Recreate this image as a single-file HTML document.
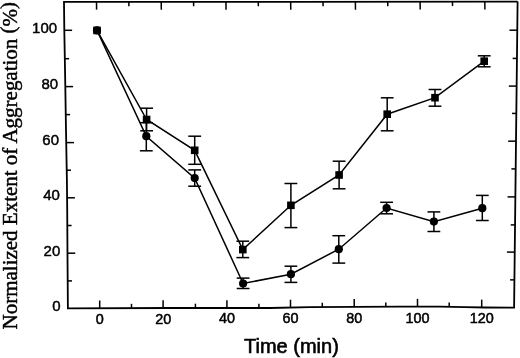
<!DOCTYPE html>
<html><head><meta charset="utf-8"><title>Figure</title>
<style>html,body{margin:0;padding:0;background:#fff}svg{display:block}</style></head>
<body>
<svg width="520" height="358" viewBox="0 0 520 358">
<rect width="520" height="358" fill="#fff"/>
<polygon points="64.00,1.80 290.00,1.95 517.60,1.70 517.60,1.60 514.10,307.60 514.10,307.60 485.00,307.50 465.00,307.10 440.00,306.70 400.00,306.60 310.00,307.10 270.00,308.00 170.00,308.00 67.90,308.40 67.45,250.00 67.20,208.00 66.90,180.00 66.00,130.00 65.30,86.00 64.80,58.00 64.30,30.00 64.00,1.80" fill="none" stroke="#000" stroke-width="1.80" stroke-linejoin="miter"/>
<g stroke="#000" stroke-width="1.50">
<line x1="96.50" y1="1.82" x2="96.60" y2="9.62"/>
<line x1="99.70" y1="308.28" x2="99.70" y2="300.48"/>
<line x1="128.86" y1="1.84" x2="128.91" y2="6.14"/>
<line x1="131.50" y1="308.15" x2="131.50" y2="303.85"/>
<line x1="161.22" y1="1.86" x2="161.32" y2="9.66"/>
<line x1="163.10" y1="308.03" x2="163.10" y2="300.23"/>
<line x1="193.58" y1="1.89" x2="193.63" y2="6.19"/>
<line x1="195.40" y1="308.00" x2="195.40" y2="303.70"/>
<line x1="225.94" y1="1.91" x2="226.04" y2="9.71"/>
<line x1="226.90" y1="308.00" x2="226.90" y2="300.20"/>
<line x1="258.30" y1="1.93" x2="258.35" y2="6.23"/>
<line x1="258.90" y1="308.00" x2="258.90" y2="303.70"/>
<line x1="290.66" y1="1.95" x2="290.76" y2="9.75"/>
<line x1="290.50" y1="307.54" x2="290.50" y2="299.74"/>
<line x1="323.02" y1="1.91" x2="323.07" y2="6.21"/>
<line x1="322.30" y1="307.03" x2="322.30" y2="302.73"/>
<line x1="355.38" y1="1.88" x2="355.48" y2="9.68"/>
<line x1="354.20" y1="306.85" x2="354.20" y2="299.05"/>
<line x1="387.74" y1="1.84" x2="387.79" y2="6.14"/>
<line x1="385.80" y1="306.68" x2="385.80" y2="302.38"/>
<line x1="420.10" y1="1.81" x2="420.20" y2="9.61"/>
<line x1="417.50" y1="306.64" x2="417.50" y2="298.84"/>
<line x1="452.46" y1="1.77" x2="452.51" y2="6.07"/>
<line x1="449.20" y1="306.85" x2="449.20" y2="302.55"/>
<line x1="484.82" y1="1.74" x2="484.92" y2="9.54"/>
<line x1="481.70" y1="307.43" x2="481.70" y2="299.63"/>
<line x1="67.69" y1="280.90" x2="71.99" y2="280.90"/>
<line x1="514.42" y1="279.86" x2="510.12" y2="279.86"/>
<line x1="67.47" y1="253.20" x2="75.27" y2="253.20"/>
<line x1="514.73" y1="252.10" x2="506.93" y2="252.10"/>
<line x1="67.30" y1="225.50" x2="71.60" y2="225.50"/>
<line x1="515.05" y1="224.90" x2="510.75" y2="224.90"/>
<line x1="67.09" y1="197.80" x2="74.89" y2="197.80"/>
<line x1="515.37" y1="196.90" x2="507.57" y2="196.90"/>
<line x1="66.72" y1="170.20" x2="71.02" y2="170.20"/>
<line x1="515.69" y1="168.90" x2="511.39" y2="168.90"/>
<line x1="66.23" y1="142.60" x2="74.03" y2="142.60"/>
<line x1="516.00" y1="141.16" x2="508.20" y2="141.16"/>
<line x1="65.75" y1="114.60" x2="70.05" y2="114.60"/>
<line x1="516.32" y1="113.42" x2="512.02" y2="113.42"/>
<line x1="65.31" y1="86.60" x2="73.11" y2="86.60"/>
<line x1="516.63" y1="86.10" x2="508.83" y2="86.10"/>
<line x1="64.81" y1="58.70" x2="69.11" y2="58.70"/>
<line x1="516.95" y1="58.40" x2="512.65" y2="58.40"/>
<line x1="64.31" y1="30.30" x2="72.11" y2="30.30"/>
<line x1="517.27" y1="30.20" x2="509.47" y2="30.20"/>
</g>
<polyline fill="none" stroke="#000" stroke-width="1.50" points="97.0,30.4 146.6,119.5 194.7,150.3 242.8,249.6 290.9,205.3 339.1,175.0 387.2,114.2 435.0,97.7 484.2,61.2"/>
<polyline fill="none" stroke="#000" stroke-width="1.50" points="97.0,30.4 146.3,136.2 194.7,178.1 243.1,283.5 290.9,274.2 338.8,249.2 386.6,208.0 433.9,221.6 482.3,208.2"/>
<g stroke="#000" stroke-width="1.50">
<line x1="146.6" y1="108.2" x2="146.6" y2="130.8"/>
<line x1="140.2" y1="108.2" x2="153.0" y2="108.2"/>
<line x1="140.2" y1="130.8" x2="153.0" y2="130.8"/>
<line x1="194.7" y1="136.2" x2="194.7" y2="164.3"/>
<line x1="188.3" y1="136.2" x2="201.1" y2="136.2"/>
<line x1="188.3" y1="164.3" x2="201.1" y2="164.3"/>
<line x1="242.8" y1="241.2" x2="242.8" y2="257.6"/>
<line x1="236.4" y1="241.2" x2="249.2" y2="241.2"/>
<line x1="236.4" y1="257.6" x2="249.2" y2="257.6"/>
<line x1="290.9" y1="183.5" x2="290.9" y2="227.6"/>
<line x1="284.5" y1="183.5" x2="297.3" y2="183.5"/>
<line x1="284.5" y1="227.6" x2="297.3" y2="227.6"/>
<line x1="339.1" y1="161.2" x2="339.1" y2="188.8"/>
<line x1="332.7" y1="161.2" x2="345.5" y2="161.2"/>
<line x1="332.7" y1="188.8" x2="345.5" y2="188.8"/>
<line x1="387.2" y1="97.8" x2="387.2" y2="130.8"/>
<line x1="380.8" y1="97.8" x2="393.6" y2="97.8"/>
<line x1="380.8" y1="130.8" x2="393.6" y2="130.8"/>
<line x1="435.0" y1="89.5" x2="435.0" y2="106.2"/>
<line x1="428.6" y1="89.5" x2="441.4" y2="89.5"/>
<line x1="428.6" y1="106.2" x2="441.4" y2="106.2"/>
<line x1="484.2" y1="55.8" x2="484.2" y2="66.8"/>
<line x1="477.8" y1="55.8" x2="490.6" y2="55.8"/>
<line x1="477.8" y1="66.8" x2="490.6" y2="66.8"/>
<line x1="146.3" y1="122.7" x2="146.3" y2="150.8"/>
<line x1="139.9" y1="122.7" x2="152.7" y2="122.7"/>
<line x1="139.9" y1="150.8" x2="152.7" y2="150.8"/>
<line x1="194.7" y1="169.9" x2="194.7" y2="186.2"/>
<line x1="188.3" y1="169.9" x2="201.1" y2="169.9"/>
<line x1="188.3" y1="186.2" x2="201.1" y2="186.2"/>
<line x1="243.1" y1="278.1" x2="243.1" y2="288.5"/>
<line x1="236.7" y1="278.1" x2="249.5" y2="278.1"/>
<line x1="236.7" y1="288.5" x2="249.5" y2="288.5"/>
<line x1="290.9" y1="266.2" x2="290.9" y2="282.4"/>
<line x1="284.5" y1="266.2" x2="297.3" y2="266.2"/>
<line x1="284.5" y1="282.4" x2="297.3" y2="282.4"/>
<line x1="338.8" y1="235.7" x2="338.8" y2="263.1"/>
<line x1="332.4" y1="235.7" x2="345.2" y2="235.7"/>
<line x1="332.4" y1="263.1" x2="345.2" y2="263.1"/>
<line x1="386.6" y1="202.3" x2="386.6" y2="213.8"/>
<line x1="380.2" y1="202.3" x2="393.0" y2="202.3"/>
<line x1="380.2" y1="213.8" x2="393.0" y2="213.8"/>
<line x1="433.9" y1="211.9" x2="433.9" y2="231.5"/>
<line x1="427.5" y1="211.9" x2="440.3" y2="211.9"/>
<line x1="427.5" y1="231.5" x2="440.3" y2="231.5"/>
<line x1="482.3" y1="195.4" x2="482.3" y2="220.5"/>
<line x1="475.9" y1="195.4" x2="488.7" y2="195.4"/>
<line x1="475.9" y1="220.5" x2="488.7" y2="220.5"/>
</g>
<circle cx="97.0" cy="30.4" r="4.1"/>
<circle cx="146.3" cy="136.2" r="4.1"/>
<circle cx="194.7" cy="178.1" r="4.1"/>
<circle cx="243.1" cy="283.5" r="4.1"/>
<circle cx="290.9" cy="274.2" r="4.1"/>
<circle cx="338.8" cy="249.2" r="4.1"/>
<circle cx="386.6" cy="208.0" r="4.1"/>
<circle cx="433.9" cy="221.6" r="4.1"/>
<circle cx="482.3" cy="208.2" r="4.1"/>
<rect x="93.2" y="26.6" width="7.6" height="7.6"/>
<rect x="142.8" y="115.7" width="7.6" height="7.6"/>
<rect x="190.9" y="146.5" width="7.6" height="7.6"/>
<rect x="239.0" y="245.8" width="7.6" height="7.6"/>
<rect x="287.1" y="201.5" width="7.6" height="7.6"/>
<rect x="335.3" y="171.2" width="7.6" height="7.6"/>
<rect x="383.4" y="110.4" width="7.6" height="7.6"/>
<rect x="431.2" y="93.9" width="7.6" height="7.6"/>
<rect x="480.4" y="57.4" width="7.6" height="7.6"/>
<g font-family="'Liberation Sans', Arial, Helvetica, sans-serif" font-size="15" fill="#000" stroke="#000" stroke-width="0.45" text-anchor="end">
<text transform="translate(60.7,310.8) scale(1,1.02)">0</text>
<text transform="translate(60.3,255.6) scale(1,1.02)">20</text>
<text transform="translate(59.9,200.2) scale(1,1.02)">40</text>
<text transform="translate(59.0,145.0) scale(1,1.02)">60</text>
<text transform="translate(58.1,89.0) scale(1,1.02)">80</text>
<text transform="translate(57.1,32.7) scale(1,1.02)">100</text>
</g>
<g font-family="'Liberation Sans', Arial, Helvetica, sans-serif" font-size="14.4" fill="#000" stroke="#000" stroke-width="0.5" text-anchor="middle">
<text transform="translate(99.8,323.5) scale(1,1.05)">0</text>
<text transform="translate(163.2,323.5) scale(1,1.05)">20</text>
<text transform="translate(227.0,323.0) scale(1,1.05)">40</text>
<text transform="translate(290.6,322.5) scale(1,1.05)">60</text>
<text transform="translate(354.3,322.5) scale(1,1.05)">80</text>
<text transform="translate(417.6,322.5) scale(1,1.05)">100</text>
<text transform="translate(481.8,322.5) scale(1,1.05)">120</text>
</g>
<text x="291.4" y="352.5" text-anchor="middle" font-family="'Liberation Sans', Arial, Helvetica, sans-serif" font-size="20" stroke="#000" stroke-width="0.6">Time (min)</text>
<text transform="translate(17.2,165.7) rotate(-90) scale(1,0.97)" text-anchor="middle" font-family="'Liberation Serif', 'Times New Roman', Times, serif" font-size="21" stroke="#000" stroke-width="0.45">Normalized Extent of Aggregation <tspan dy="-2.7">(</tspan><tspan dy="2.7">%</tspan><tspan dy="-2.7">)</tspan></text>
</svg>
</body></html>
